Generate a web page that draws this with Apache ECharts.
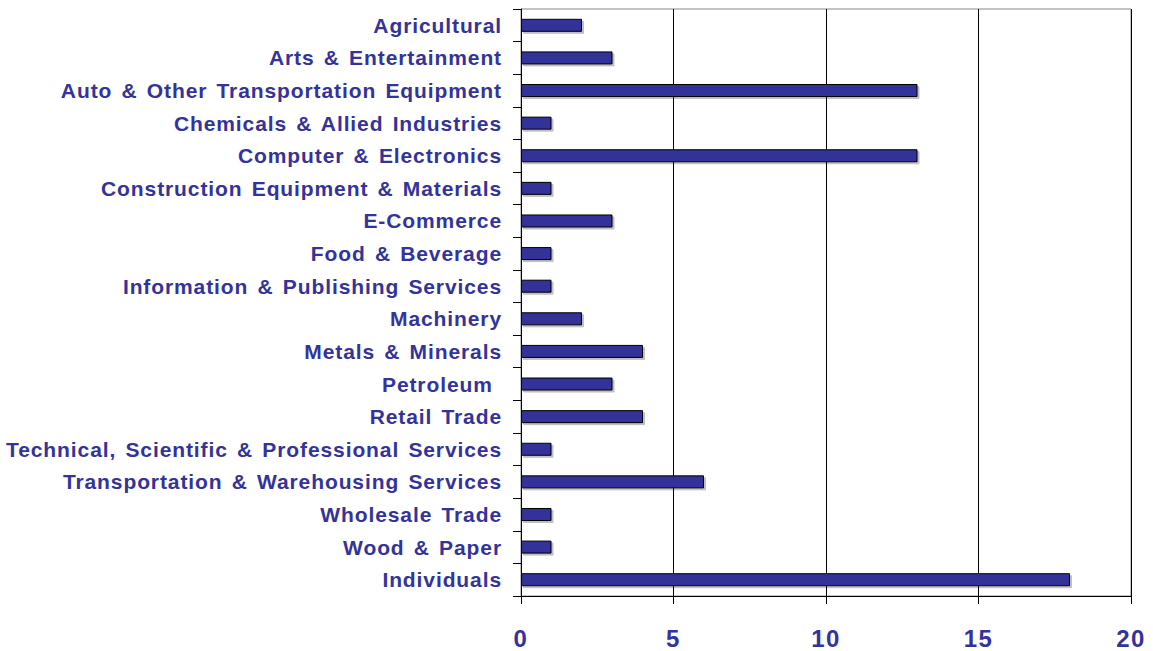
<!DOCTYPE html>
<html>
<head>
<meta charset="utf-8">
<script src="https://cdn.jsdelivr.net/npm/echarts@6/dist/echarts.min.js"></script>
<style>
  html, body { margin: 0; padding: 0; background: #fff; }
  #chart { width: 1153px; height: 651px; }
</style>
</head>
<body>
<div id="chart"></div>
<script>
  // 行业分类（从上到下）
  var categories = [
    'Agricultural',
    'Arts & Entertainment',
    'Auto & Other Transportation Equipment',
    'Chemicals & Allied Industries',
    'Computer & Electronics',
    'Construction Equipment & Materials',
    'E-Commerce',
    'Food & Beverage',
    'Information & Publishing Services',
    'Machinery',
    'Metals & Minerals',
    'Petroleum ',
    'Retail Trade',
    'Technical, Scientific & Professional Services',
    'Transportation & Warehousing Services',
    'Wholesale Trade',
    'Wood & Paper',
    'Individuals'
  ]
  var counts = [2, 3, 13, 1, 13, 1, 3, 1, 1, 2, 4, 3, 4, 1, 6, 1, 1, 18]
  var xTicks = [0, 5, 10, 15, 20]

  var labelColor = '#333399'
  var chart = echarts.init(document.getElementById('chart'), null, { renderer: 'svg' })

  // 原图文字比较宽，用字距补一下
  function widenText () {
    var texts = document.querySelectorAll('#chart text')
    for (var i = 0; i < texts.length; i++) {
      var t = texts[i]
      if (/^\d+$/.test(t.textContent.trim())) {
        t.style.letterSpacing = '1.5px'
      } else {
        t.style.letterSpacing = '0.9px'
        t.style.wordSpacing = '2.5px'
      }
    }
  }
  chart.on('finished', widenText)

  chart.setOption({
    animation: false,
    grid: {
      left: 521,
      right: 22,
      top: 9,
      bottom: 55,
      show: true,
      borderColor: '#888',
      borderWidth: 1
    },
    xAxis: {
      type: 'value',
      min: xTicks[0],
      max: xTicks[xTicks.length - 1],
      interval: 5,
      axisLine: { show: true, lineStyle: { color: '#000', width: 1 } },
      axisTick: { show: true, length: 8, lineStyle: { color: '#000' } },
      splitLine: { show: true, lineStyle: { color: '#000', width: 1 } },
      axisLabel: {
        margin: 30,
        color: labelColor,
        fontFamily: 'Liberation Sans, Arial, sans-serif',
        fontWeight: 'bold',
        fontSize: 24
      }
    },
    yAxis: {
      type: 'category',
      inverse: true,
      data: categories,
      axisLine: { show: true, lineStyle: { color: '#000', width: 1 } },
      axisTick: { show: true, length: 8, lineStyle: { color: '#000' } },
      axisLabel: {
        margin: 19,
        color: labelColor,
        fontFamily: 'Liberation Sans, Arial, sans-serif',
        fontWeight: 'bold',
        fontSize: 21
      }
    },
    series: [
      {
        type: 'bar',
        data: counts,
        barWidth: 13,
        itemStyle: {
          color: '#333399',
          borderColor: '#000',
          borderWidth: 1,
          shadowColor: 'rgba(0,0,0,0.25)',
          shadowOffsetX: 2,
          shadowOffsetY: 2,
          shadowBlur: 0
        }
      }
    ]
  })
  widenText()
  setTimeout(widenText, 0)
</script>
</body>
</html>
